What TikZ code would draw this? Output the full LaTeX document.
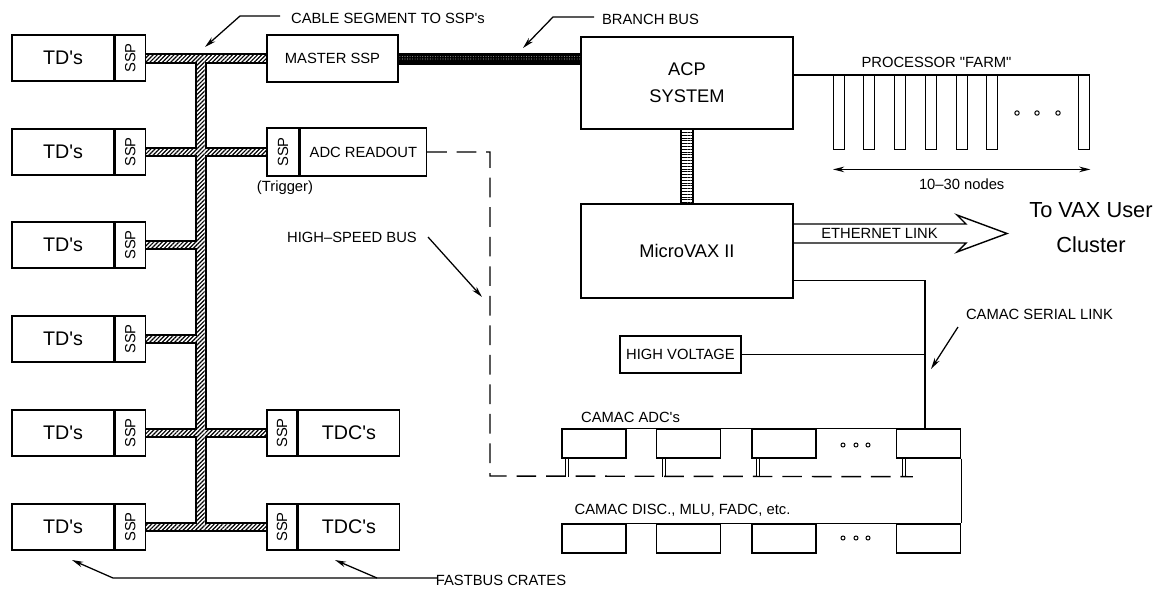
\documentclass[tikz,border=0pt]{standalone}
\usepackage{fontspec}
\setmainfont{Liberation Sans}[Ligatures=TeXOff]
\usetikzlibrary{arrows.meta,calc,patterns.meta}

\begin{document}
\begin{tikzpicture}[x=0.025cm, y=-0.025cm, line width=1pt,
    box/.style 2 args={draw, inner sep=0pt, minimum width=#1*0.025cm, minimum height=#2*0.025cm},
    lbl/.style={font=\fontsize{10.5}{12}\selectfont},
    big/.style={font=\fontsize{14}{16}\selectfont},
    lead/.style={-{Stealth[length=8pt,width=4pt]}, line width=0.9pt},
    hatch/.style={fill=white, postaction={pattern={Lines[angle=45,distance=2.1pt,line width=0.85pt]}}},
    hsbus/.style={dash pattern=on 14pt off 7pt}]
    \useasboundingbox (0,0) rectangle (1167,588);

    % FASTBUS crates on the left
    \foreach \y [count=\i] in {58,152,245,339,433,527} {
        \node[box={102}{46}, big] (td\i) at (63,\y) {TD's};
        \node[box={30}{46}, lbl, anchor=west] (sp\i) at (td\i.east) {\rotatebox{90}{SSP}};
    }

    \node[box={131}{47}, lbl] (master) at (332.5,58.5) {MASTER SSP};
    \node[box={32}{48}, lbl] (asp) at (283,152) {\rotatebox{90}{SSP}};
    \node[box={126}{48}, lbl, anchor=west] (ro) at (asp.east) {ADC READOUT};
    \node[lbl] (trig) at (285,188) {(Trigger)};
    \node[box={30}{46}, lbl] (tsp1) at (282,433) {\rotatebox{90}{SSP}};
    \node[box={101}{46}, big, anchor=west] (tdc1) at (tsp1.east) {TDC's};
    \node[box={30}{46}, lbl] (tsp2) at (282,527) {\rotatebox{90}{SSP}};
    \node[box={101}{46}, big, anchor=west] (tdc2) at (tsp2.east) {TDC's};

    % cable segments
    \coordinate (bustop) at (200.5,58);
    \coordinate (busbot) at (200.5,527);
    \coordinate (j3) at (sp3.east -| bustop);
    \coordinate (j4) at (sp4.east -| bustop);
    \foreach \a/\b in {sp1.east/master.west, sp2.east/asp.west, sp3.east/j3, sp4.east/j4, sp5.east/tsp1.west, sp6.east/tsp2.west}
        \fill ($(\a)+(0,-5)$) rectangle ($(\b)+(0,5)$);
    \fill ($(bustop)+(-6,-5)$) rectangle ($(busbot)+(6,5)$);
    \foreach \a/\b in {sp1.east/master.west, sp2.east/asp.west, sp3.east/j3, sp4.east/j4, sp5.east/tsp1.west, sp6.east/tsp2.west}
        \path[hatch] ($(\a)+(0,-3)$) rectangle ($(\b)+(0,3)$);
    \path[hatch] ($(bustop)+(-4,-3)$) rectangle ($(busbot)+(4,3)$);

    % ACP, MicroVAX
    \node[box={212}{92}, font=\fontsize{13}{19}\selectfont, align=center] (acp) at (687,83) {ACP\\SYSTEM};
    \node[box={212}{94}, font=\fontsize{13}{15}\selectfont] (vax) at (687,251) {MicroVAX II};

    % branch bus
    \fill ($(master.east)+(0,-6)$) rectangle ($(master.east -| acp.west)+(0,6)$);
    \path[pattern={Dots[radius=0.4pt,distance=1.8pt]}, pattern color=black!45] ($(master.east)+(0,-2)$) rectangle ($(master.east -| acp.west)+(0,2)$);
    \draw[fill=white, postaction={pattern={Lines[angle=0,distance=2pt,line width=0.6pt]}}] ($(acp.south)+(-6,0)$) rectangle ($(vax.north)+(6,0)$);

    % processor farm
    \foreach \x [count=\i] in {833,863,894,925,956,986,1078}
        \node[box={11}{74}, anchor=north west] (slot\i) at (\x,75) {};
    \draw (acp.east |- slot1.north) -- (slot7.north east);
    \foreach \x in {1017,1037,1058}
        \draw[line width=0.7pt] (\x,113) circle[radius=0.055cm];
    \node[lbl] (farm) at (936.5,62) {PROCESSOR "FARM"};
    \draw[{Stealth[length=8pt,width=4pt]}-{Stealth[length=8pt,width=4pt]}] ($(slot1.south west)+(0,19)$) -- ($(slot7.south east)+(0,19)$) node[lbl, midway, below=3pt] (nn) {10–30 nodes};

    % ethernet link
    \node[font=\fontsize{15.5}{25}\selectfont, align=center] (tovax) at (1091,228) {To VAX User\\Cluster};
    \coordinate (etip) at (1007,233.5);
    \draw[line join=miter] ($(vax.east |- etip)+(0,-9.5)$) -- ($(etip)+(-41,-9.5)$) -- ($(etip)+(-50,-18.5)$) -- (etip)
        -- ($(etip)+(-50,18.5)$) -- ($(etip)+(-41,9.5)$) -- ($(vax.east |- etip)+(0,9.5)$);
    \node[lbl] (eth) at (879.5,233.5) {ETHERNET LINK};

    % CAMAC
    \foreach \x [count=\i] in {594,688.5,784,928.5} {
        \node[box={64}{29}] (adc\i) at (\x,443.5) {};
        \node[box={64}{29}] (disc\i) at (\x,538.5) {};
    }
    \draw (adc1.north west) -- (adc4.north east);
    \draw (adc4.south east) -- (disc4.north east);
    \draw (disc1.north west) -- (disc4.north east);
    \foreach \x in {843,856,868} {
        \draw[line width=0.7pt] (\x,445) circle[radius=0.05cm];
        \draw[line width=0.7pt] (\x,538) circle[radius=0.05cm];
    }
    \node[lbl] (adcl) at (630.5,417) {CAMAC ADC's};
    \node[lbl] (discl) at (682.5,510) {CAMAC DISC., MLU, FADC, etc.};

    \coordinate (camtop) at (925,429);
    \draw ($(vax.south east)+(0,-18)$) -| (camtop);
    \node[box={121}{37}, lbl] (hv) at (680.5,354.5) {HIGH VOLTAGE};
    \draw (hv.east) -- (hv.east -| camtop);
    \node[lbl] (sl) at (1039.5,314) {CAMAC SERIAL LINK};
    \draw[lead] (958,327) -- (931,369);

    % high-speed bus
    \foreach \i/\d in {1/6,2/8,3/7,4/8}
        \draw[line width=0.6pt] ($(adc\i.south west)+(\d-1.5,0)$) -- ++(0,18) ($(adc\i.south west)+(\d+1.5,0)$) -- ++(0,18);
    \coordinate (hsb) at (490,476);
    \draw[hsbus] (ro.east) -| (hsb) -- ($(adc4.south west)+(17,18)$);
    \node[lbl] (hsl) at (352,237) {HIGH–SPEED BUS};
    \draw[lead] (428,237) -- (482,297);

    % labels on top and bottom
    \node[lbl] (csl) at (388,18) {CABLE SEGMENT TO SSP's};
    \draw[lead] (280,16) -- (240,16) -- (205,47);
    \node[lbl] (bbl) at (650.5,19) {BRANCH BUS};
    \draw[lead] (594,17) -- (553,17) -- (523,48);
    \node[lbl] (fbl) at (501,580) {FASTBUS CRATES};
    \draw[lead] (437,578) -- (113,578) -- (72,560);
    \draw[lead] (377,578) -- (335,560);
\end{tikzpicture}
\end{document}
